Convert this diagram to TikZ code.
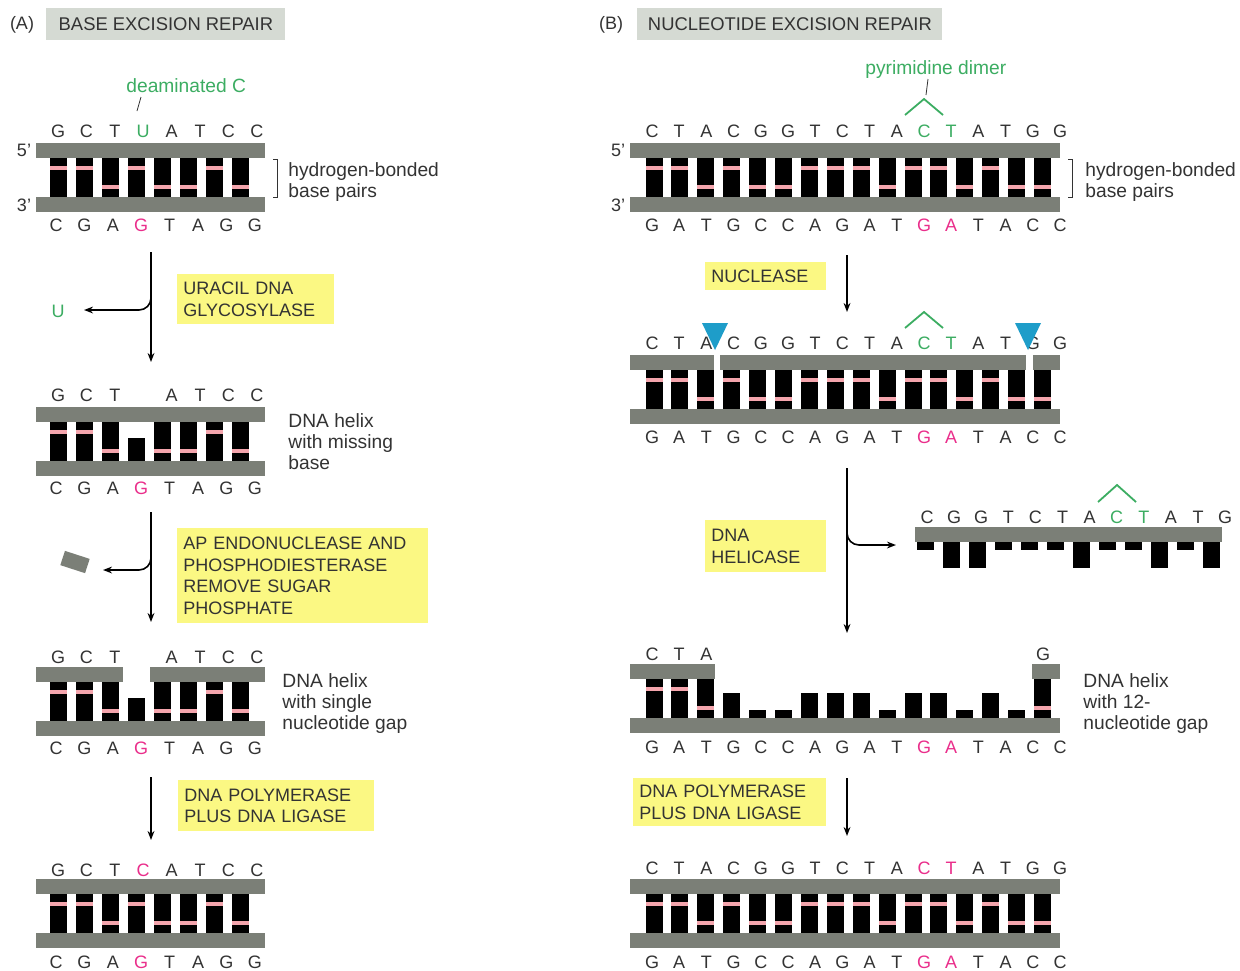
\documentclass[tikz,border=0pt]{standalone}
\usepackage{fontspec}
\setmainfont{Liberation Sans}
\usetikzlibrary{arrows.meta}
\definecolor{backbone}{HTML}{7B7F77}
\definecolor{headgray}{HTML}{D5DAD3}
\definecolor{enzyme}{HTML}{FBF883}
\definecolor{hbondpink}{HTML}{F4A5AD}
\definecolor{lesion}{HTML}{3CAD62}
\definecolor{repaired}{HTML}{EA2E8B}
\definecolor{nick}{HTML}{1E9DC9}
\definecolor{ink}{HTML}{333333}

\begin{document}
\begin{tikzpicture}[x=0.5pt, y=-0.5pt,
    strand/.style={fill=backbone},
    base/.style={fill=black},
    hbond/.style={fill=hbondpink},
    seq/.style={font=\fontsize{9}{10}\selectfont, text=ink, inner sep=0pt},
    note/.style={font=\fontsize{9.6}{10.6}\selectfont, text=ink, align=left, anchor=north west, inner sep=0pt},
    enz/.style={fill=enzyme, font=\fontsize{9}{10.8}\selectfont, text=ink, align=left, anchor=north west, inner xsep=3pt, inner ysep=0pt},
    heading/.style={fill=headgray, font=\fontsize{9.2}{11}\selectfont, text=ink, anchor=north west, inner xsep=4pt, inner ysep=0pt, minimum height=16pt},
    arr/.style={-{Stealth[length=4.5pt, width=3.4pt]}, line width=0.8pt},
    leader/.style={line width=0.4pt, ink},
    dimer/.style={line width=0.9pt, lesion},
]

\fill[white] (0,0) rectangle (1240,970);
\useasboundingbox (0,0) rectangle (1240,970);

% ================= (A) base excision repair =================
\node[seq] (tagA) at (22,25) {(A)};
\node[heading, minimum width=119.5pt] (headA) at (46,8) {BASE EXCISION REPAIR};

% --- damaged helix ---
\node[note, text=lesion] (deam) at (126,78) {deaminated C};
\coordinate (deam-a) at (141,97);
\coordinate (deam-b) at (137,111);
\draw[leader] (deam-a) -- (deam-b);

\fill[strand] (36,143) rectangle (265,158);
\fill[strand] (36,197) rectangle (265,212);
\foreach \h [count=\i from 0] in {25,25,44,25,44,44,25,44} {
  \fill[base] ({49.5+26*\i},158) rectangle ++(17,39);
  \fill[hbond] ({49.5+26*\i},{141+\h}) rectangle ++(17,4);
}
\foreach \b [count=\i from 0] in {G,C,T,\textcolor{lesion}{U},A,T,C,C}
  \node[seq] (a1t\i) at ({58+28.4*\i},131) {\b};
\foreach \b [count=\i from 0] in {C,G,A,\textcolor{repaired}{G},T,A,G,G}
  \node[seq] (a1b\i) at ({56+28.4*\i},225) {\b};
\node[seq] (a1five) at (24,150) {5'};
\node[seq] (a1three) at (24,205) {3'};
\draw[leader] (273,159) -- (277,159) -- (277,197) -- (273,197);
\node[note] (hbA) at (288,162) {hydrogen-bonded\\base pairs};

% --- uracil removal ---
\coordinate (a1-top) at (151,252);
\coordinate (a1-bot) at (151,362);
\coordinate (a1-fork) at (151,288);
\coordinate (a1-out) at (84,310);
\draw[arr] (a1-top) -- (a1-bot);
\draw[arr, rounded corners=6pt] (a1-fork) |- (a1-out);
\node[seq, text=lesion] (ura) at (58,311) {U};
\node[enz, text width=72.5pt, minimum height=25pt] (udg) at (177,274) {URACIL DNA\\GLYCOSYLASE};

% --- helix with missing base ---
\fill[strand] (36,407) rectangle (265,422);
\fill[strand] (36,461) rectangle (265,476);
\foreach \i/\h in {0/25,1/25,2/44,4/44,5/44,6/25,7/44} {
  \fill[base] ({49.5+26*\i},422) rectangle ++(17,39);
  \fill[hbond] ({49.5+26*\i},{405+\h}) rectangle ++(17,4);
}
\fill[base] (127.5,438) rectangle ++(17,23);
\foreach \b [count=\i from 0] in {G,C,T,,A,T,C,C}
  \node[seq] (a2t\i) at ({58+28.4*\i},395) {\b};
\foreach \b [count=\i from 0] in {C,G,A,\textcolor{repaired}{G},T,A,G,G}
  \node[seq] (a2b\i) at ({56+28.4*\i},488) {\b};
\node[note] (gapA1) at (288,413) {DNA helix\\with missing\\base};

% --- sugar phosphate removal ---
\coordinate (a2-top) at (151,512);
\coordinate (a2-bot) at (151,622);
\coordinate (a2-fork) at (151,550);
\coordinate (a2-out) at (103,570);
\draw[arr] (a2-top) -- (a2-bot);
\draw[arr, rounded corners=6pt] (a2-fork) |- (a2-out);
\node[strand, rotate=-18, minimum width=13pt, minimum height=7.5pt, inner sep=0pt] (sugar) at (75,562) {};
\node[enz, text width=119.5pt, minimum height=47.5pt] (ape) at (177,528) {AP ENDONUCLEASE AND\\PHOSPHODIESTERASE\\REMOVE SUGAR\\PHOSPHATE};

% --- single nucleotide gap ---
\fill[strand] (36,667) rectangle (123,682);
\fill[strand] (150,667) rectangle (265,682);
\fill[strand] (36,721) rectangle (265,736);
\foreach \i/\h in {0/25,1/25,2/44,4/44,5/44,6/25,7/44} {
  \fill[base] ({49.5+26*\i},682) rectangle ++(17,39);
  \fill[hbond] ({49.5+26*\i},{665+\h}) rectangle ++(17,4);
}
\fill[base] (127.5,698) rectangle ++(17,23);
\foreach \b [count=\i from 0] in {G,C,T,,A,T,C,C}
  \node[seq] (a3t\i) at ({58+28.4*\i},657) {\b};
\foreach \b [count=\i from 0] in {C,G,A,\textcolor{repaired}{G},T,A,G,G}
  \node[seq] (a3b\i) at ({56+28.4*\i},748) {\b};
\node[note] (gapA2) at (282,673) {DNA helix\\with single\\nucleotide gap};

% --- gap filling ---
\coordinate (a3-top) at (151,777);
\coordinate (a3-bot) at (151,840);
\draw[arr] (a3-top) -- (a3-bot);
\node[enz, text width=92pt, minimum height=25.5pt] (polA) at (178,780) {DNA POLYMERASE\\PLUS DNA LIGASE};

% --- repaired helix ---
\fill[strand] (36,879) rectangle (265,894);
\fill[strand] (36,933) rectangle (265,948);
\foreach \h [count=\i from 0] in {25,25,44,25,44,44,25,44} {
  \fill[base] ({49.5+26*\i},894) rectangle ++(17,39);
  \fill[hbond] ({49.5+26*\i},{877+\h}) rectangle ++(17,4);
}
\foreach \b [count=\i from 0] in {G,C,T,\textcolor{repaired}{C},A,T,C,C}
  \node[seq] (a4t\i) at ({58+28.4*\i},870) {\b};
\foreach \b [count=\i from 0] in {C,G,A,\textcolor{repaired}{G},T,A,G,G}
  \node[seq] (a4b\i) at ({56+28.4*\i},962) {\b};

% ================= (B) nucleotide excision repair =================
\node[seq] (tagB) at (611,25) {(B)};
\node[heading, minimum width=152.5pt] (headB) at (637,8) {NUCLEOTIDE EXCISION REPAIR};

% --- damaged helix ---
\node[note, text=lesion] (pyr) at (865,60) {pyrimidine dimer};
\coordinate (pyr-a) at (928,79);
\coordinate (pyr-b) at (926,95);
\draw[leader] (pyr-a) -- (pyr-b);
\draw[dimer] (905,115) -- (924,99) -- (943,115);

\fill[strand] (630,143) rectangle (1060,158);
\fill[strand] (630,197) rectangle (1060,212);
\foreach \h [count=\i from 0] in {25,25,44,25,44,44,25,25,25,44,25,25,44,25,44,44} {
  \fill[base] ({645.5+25.9*\i},158) rectangle ++(17,39);
  \fill[hbond] ({645.5+25.9*\i},{141+\h}) rectangle ++(17,4);
}
\foreach \b [count=\i from 0] in {C,T,A,C,G,G,T,C,T,A,\textcolor{lesion}{C},\textcolor{lesion}{T},A,T,G,G}
  \node[seq] (b1t\i) at ({652+27.2*\i},131) {\b};
\foreach \b [count=\i from 0] in {G,A,T,G,C,C,A,G,A,T,\textcolor{repaired}{G},\textcolor{repaired}{A},T,A,C,C}
  \node[seq] (b1b\i) at ({652+27.2*\i},225) {\b};
\node[seq] (b1five) at (618,150) {5'};
\node[seq] (b1three) at (618,205) {3'};
\draw[leader] (1068,159) -- (1072,159) -- (1072,197) -- (1068,197);
\node[note] (hbB) at (1085,162) {hydrogen-bonded\\base pairs};

% --- incision ---
\coordinate (b1-top) at (847,255);
\coordinate (b1-bot) at (847,312);
\draw[arr] (b1-top) -- (b1-bot);
\node[enz, text width=54.5pt, minimum height=14pt] (nuc) at (705,262) {NUCLEASE};

\fill[strand] (630,355) rectangle (714,370);
\fill[strand] (720,355) rectangle (1026,370);
\fill[strand] (1033,355) rectangle (1060,370);
\fill[strand] (630,409) rectangle (1060,424);
\foreach \h [count=\i from 0] in {25,25,44,25,44,44,25,25,25,44,25,25,44,25,44,44} {
  \fill[base] ({645.5+25.9*\i},370) rectangle ++(17,39);
  \fill[hbond] ({645.5+25.9*\i},{353+\h}) rectangle ++(17,4);
}
\foreach \b [count=\i from 0] in {C,T,A,C,G,G,T,C,T,A,\textcolor{lesion}{C},\textcolor{lesion}{T},A,T,G,G}
  \node[seq] (b2t\i) at ({652+27.2*\i},343) {\b};
\foreach \b [count=\i from 0] in {G,A,T,G,C,C,A,G,A,T,\textcolor{repaired}{G},\textcolor{repaired}{A},T,A,C,C}
  \node[seq] (b2b\i) at ({652+27.2*\i},437) {\b};
\draw[dimer] (905,328) -- (924,312) -- (943,328);
\fill[nick] (702,323) -- (728,323) -- (715,350) -- cycle;
\fill[nick] (1015,323) -- (1041,323) -- (1028,350) -- cycle;

% --- excision of the oligonucleotide ---
\coordinate (b2-top) at (847,468);
\coordinate (b2-bot) at (847,633);
\coordinate (b2-fork) at (847,525);
\coordinate (b2-out) at (896,545);
\draw[arr] (b2-top) -- (b2-bot);
\draw[arr, rounded corners=6pt] (b2-fork) |- (b2-out);
\node[enz, text width=54.5pt, minimum height=26pt] (hel) at (705,520) {DNA\\HELICASE};

\fill[strand] (915,527) rectangle (1222,542);
\foreach \d [count=\i from 0] in {8,26,26,8,8,8,26,8,8,26,8,26}
  \fill[base] ({916.5+26*\i},542) rectangle ++(17,\d);
\foreach \b [count=\i from 0] in {C,G,G,T,C,T,A,\textcolor{lesion}{C},\textcolor{lesion}{T},A,T,G}
  \node[seq] (frag\i) at ({927+27.1*\i},517) {\b};
\draw[dimer] (1098,502) -- (1117,485) -- (1136,502);

% --- 12-nucleotide gap ---
\fill[strand] (630,664) rectangle (715,679);
\fill[strand] (1032,664) rectangle (1060,679);
\fill[strand] (630,718) rectangle (1060,733);
\foreach \i/\h in {0/25,1/25,2/44,15/44} {
  \fill[base] ({645.5+25.9*\i},679) rectangle ++(17,39);
  \fill[hbond] ({645.5+25.9*\i},{662+\h}) rectangle ++(17,4);
}
\foreach \t [count=\i from 3] in {29,46,46,29,29,29,46,29,29,46,29,46}
  \fill[base] ({645.5+25.9*\i},{664+\t}) rectangle ({662.5+25.9*\i},718);
\foreach \b [count=\i from 0] in {C,T,A}
  \node[seq] (b3t\i) at ({652+27.2*\i},654) {\b};
\node[seq] (b3t15) at (1043,654) {G};
\foreach \b [count=\i from 0] in {G,A,T,G,C,C,A,G,A,T,\textcolor{repaired}{G},\textcolor{repaired}{A},T,A,C,C}
  \node[seq] (b3b\i) at ({652+27.2*\i},747) {\b};
\node[note] (gapB) at (1083,673) {DNA helix\\with 12-\\nucleotide gap};

% --- repair synthesis ---
\coordinate (b3-top) at (847,778);
\coordinate (b3-bot) at (847,836);
\draw[arr] (b3-top) -- (b3-bot);
\node[enz, text width=90.5pt, minimum height=24pt] (polB) at (633,778) {DNA POLYMERASE\\PLUS DNA LIGASE};

\fill[strand] (630,879) rectangle (1060,894);
\fill[strand] (630,933) rectangle (1060,948);
\foreach \h [count=\i from 0] in {25,25,44,25,44,44,25,25,25,44,25,25,44,25,44,44} {
  \fill[base] ({645.5+25.9*\i},894) rectangle ++(17,39);
  \fill[hbond] ({645.5+25.9*\i},{877+\h}) rectangle ++(17,4);
}
\foreach \b [count=\i from 0] in {C,T,A,C,G,G,T,C,T,A,\textcolor{repaired}{C},\textcolor{repaired}{T},A,T,G,G}
  \node[seq] (b4t\i) at ({652+27.2*\i},868) {\b};
\foreach \b [count=\i from 0] in {G,A,T,G,C,C,A,G,A,T,\textcolor{repaired}{G},\textcolor{repaired}{A},T,A,C,C}
  \node[seq] (b4b\i) at ({652+27.2*\i},962) {\b};

\end{tikzpicture}
\end{document}
